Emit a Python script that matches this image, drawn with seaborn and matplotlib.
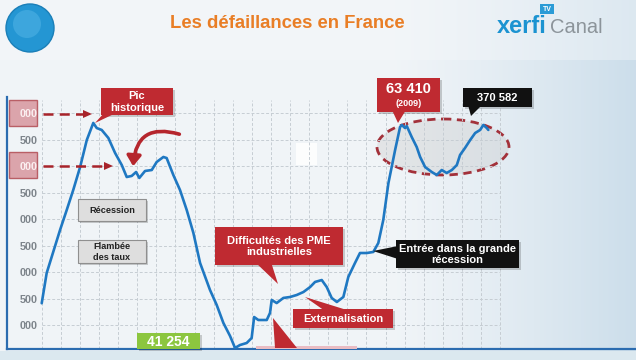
import numpy as np
import matplotlib
matplotlib.use('Agg')
import matplotlib.pyplot as plt
import seaborn as sns
from matplotlib.patches import Rectangle, Polygon, Ellipse, Circle, FancyArrowPatch
from matplotlib.ticker import FuncFormatter

# Défaillances d'entreprises en France (cumul 12 mois)
years = [1990.00, 1990.26, 1990.52, 1990.96, 1991.31, 1991.65, 1992.01, 1992.36, 1992.70, 1992.88,
         1993.14, 1993.49, 1993.84, 1994.19, 1994.45, 1994.71, 1994.94, 1995.11, 1995.41, 1995.76,
         1996.02, 1996.37, 1996.54, 1996.89, 1997.24, 1997.59, 1997.94, 1998.29, 1998.81, 1999.16,
         1999.51, 1999.86, 2000.12, 2000.38, 2000.73, 2000.99, 2001.12, 2001.34, 2001.78, 2001.95,
         2002.04, 2002.30, 2002.65, 2003.00, 2003.35, 2003.70, 2004.05, 2004.31, 2004.66, 2004.92,
         2005.18, 2005.45, 2005.79, 2006.05, 2006.40, 2006.66, 2007.02, 2007.36, 2007.62, 2007.88,
         2008.15, 2008.32, 2008.50, 2008.76, 2008.85, 2009.02, 2009.11, 2009.37, 2009.63, 2009.81,
         2010.07, 2010.42, 2010.68, 2010.94, 2011.20, 2011.47, 2011.73, 2011.90, 2012.16, 2012.43,
         2012.69, 2012.95, 2013.12, 2013.30, 2013.38]
failures = [47080, 49930, 51440, 53990, 55880, 57760, 59930, 62480, 64090, 63610,
            63430, 62670, 61260, 60120, 58990, 59090, 59460, 58900, 59560, 59650,
            60410, 60880, 60780, 59180, 57760, 55880, 53710, 50880, 48330, 46920,
            45220, 43990, 42860, 43140, 43330, 43800, 45780, 45500, 45500, 46160,
            47390, 47100, 47580, 47670, 47860, 48140, 48610, 49090, 49270, 48610,
            47580, 47200, 47670, 49560, 50880, 51820, 51820, 51920, 52760, 54930,
            58420, 59930, 61540, 63710, 63900, 63610, 63800, 62760, 61820, 60880,
            59930, 59460, 59180, 59650, 59370, 59650, 60120, 61070, 61730, 62480,
            63140, 63430, 63900, 63610, 63430]
tick_values = [45000, 47500, 50000, 52500, 55000, 57500, 60000, 62500, 65000]
highlighted_ticks = [60000, 65000]
grid_years = list(range(1990, 2015))

RED = '#bf2a31'
DARK_RED = '#a8232a'
BLUE = '#1f78c2'

sns.set_theme(style='white')
plt.rcParams['font.family'] = ['Liberation Sans', 'DejaVu Sans']

W, H = 636, 360
fig = plt.figure(figsize=(W / 100, H / 100), dpi=100)

# fond : dégradé clair vers bleu à droite
bg = fig.add_axes([0, 0, 1, 1], zorder=0)
t = np.clip((np.linspace(0, 1, W) - 0.6) / 0.4, 0, 1) ** 1.3
c_left = np.array([0.945, 0.960, 0.972])
c_right = np.array([0.80, 0.87, 0.92])
row = c_left * (1 - t[:, None]) + c_right * t[:, None]
img = np.broadcast_to(row, (H, W, 3)).copy()
img[:60] = img[:60] * 0.6 + np.array([0.96, 0.97, 0.98]) * 0.4
img[351:] = np.array([0.86, 0.91, 0.94])
bg.imshow(img, extent=(0, W, H, 0), aspect='auto')
bg.set_xlim(0, W)
bg.set_ylim(H, 0)
bg.axis('off')
# repères rouges derrière les graduations
for y0 in (100, 152):
    bg.add_patch(Rectangle((9, y0), 28, 26, fc='#d99ca3', ec='#b5535b', lw=1, alpha=0.9))
bg.add_patch(Rectangle((296, 143), 21, 22, fc='white', ec='none', alpha=0.85))
bg.add_patch(Ellipse((443, 147), 132, 56, fc='#c8c8c8', ec='none', alpha=0.35))
bg.add_patch(Ellipse((443, 147), 132, 56, fill=False, ec='#a3313a', lw=2,
                     ls=(0, (3, 2))))

# graphique principal
ax = fig.add_axes([7 / W, 11 / H, 629 / W, 252 / H], zorder=2)
ax.set_facecolor('none')
ax.set_xlim(1988.183, 2021.11)
ax.set_ylim(42764, 66538)
ax.vlines(grid_years, 42764, 66300, colors='#c6cdd3', lw=0.7, linestyles=(0, (3, 2)), zorder=0)
ax.hlines(tick_values, 1990, 2014, colors='#c6cdd3', lw=0.7, linestyles=(0, (3, 2)), zorder=0)
sns.lineplot(x=years, y=failures, ax=ax, color=BLUE, lw=1.9, estimator=None, sort=False, zorder=3)

ax.set_xticks([])
ax.set_yticks(tick_values)
ax.yaxis.set_major_formatter(FuncFormatter(lambda v, p: f"{int(v) % 1000:03d}"))
ax.tick_params(axis='y', length=0, pad=-22.3, labelsize=7.8, labelcolor='#7d848b')
for lbl, v in zip(ax.get_yticklabels(), tick_values):
    lbl.set_fontweight('bold')
    if v in highlighted_ticks:
        lbl.set_color('#fbeff0')
for side in ('top', 'right'):
    ax.spines[side].set_visible(False)
for side in ('left', 'bottom'):
    ax.spines[side].set_color('#2b6cb0')
    ax.spines[side].set_linewidth(1.6)
ax.set_xlabel('')
ax.set_ylabel('')

# calque des annotations, en pixels
ov = fig.add_axes([0, 0, 1, 1], zorder=5)
ov.set_xlim(0, W)
ov.set_ylim(H, 0)
ov.axis('off')
ov.patch.set_alpha(0)


def callout(x0, y0, x1, y1, fc, text, size, color='white', tail=None, ec='none'):
    ov.add_patch(Rectangle((x0 + 2, y0 + 2), x1 - x0, y1 - y0, fc='black', ec='none', alpha=0.18))
    if tail:
        ov.add_patch(Polygon(tail, closed=True, fc=fc, ec='none'))
    ov.add_patch(Rectangle((x0, y0), x1 - x0, y1 - y0, fc=fc, ec=ec, lw=0.8))
    if text:
        ov.text((x0 + x1) / 2, (y0 + y1) / 2 + 0.5, text, ha='center', va='center', fontsize=size,
                color=color, weight='bold', linespacing=1.15)


ov.text(287, 23, 'Les défaillances en France', ha='center', va='center', fontsize=13.3,
        weight='bold', color='#e97e26')
ov.text(497, 33, 'xerfi', ha='left', va='baseline', fontsize=17, weight='bold', color='#1b93d1')
ov.text(550, 33, 'Canal', ha='left', va='baseline', fontsize=14.5, color='#8c949a')
ov.add_patch(Rectangle((540, 4), 14, 10, fc='#2a9bd6', ec='none'))
ov.text(547, 9.5, 'TV', ha='center', va='center', fontsize=5, color='white', weight='bold')
ov.add_patch(Circle((30, 28), 24, fc='#2496d3', ec='#1b7fb8', lw=1))
ov.add_patch(Circle((27, 24), 14, fc='#5cbbea', ec='none', alpha=0.45))

# flèches en pointillés vers les graduations
for y, x_end in ((114, 92), (166, 113)):
    ov.plot([43, x_end - 8], [y, y], color=DARK_RED, lw=1.8, ls=(0, (4, 2.5)), solid_capstyle='butt')
    ov.add_patch(Polygon([(x_end - 9, y - 4), (x_end, y), (x_end - 9, y + 4)], fc=DARK_RED, ec='none'))

ov.add_patch(FancyArrowPatch((182, 135), (133, 169), connectionstyle='arc3,rad=0.65',
                             arrowstyle='-|>,head_length=0.5,head_width=0.35', mutation_scale=12,
                             lw=2.6, color='#b5262d'))

callout(101, 88, 173, 115, RED, 'Pic\nhistorique', 8, tail=[(104, 113), (116, 113), (95, 123)])
callout(78, 199, 146, 221, '#dedede', 'Récession', 6.6, color='#222222', ec='#8f8f8f')
callout(78, 240, 146, 263, '#dedede', 'Flambée\ndes taux', 6.6, color='#222222', ec='#8f8f8f')
callout(215, 227, 343, 265, RED, 'Difficultés des PME\nindustrielles', 8,
        tail=[(255, 262), (271, 262), (278, 284)])
callout(293, 309, 393, 328, RED, 'Externalisation', 8, tail=[(325, 311), (350, 311), (305, 297)])
callout(137, 333, 200, 349, '#8cc63f', '41 254', 10)
callout(396, 240, 519, 268, '#111111', 'Entrée dans la grande\nrécession', 8,
        tail=[(398, 246), (398, 259), (373, 251)])
callout(377, 78, 440, 112, RED, '', 8, tail=[(392, 110), (406, 110), (398, 123)])
ov.text(408.5, 89, '63 410', ha='center', va='center', fontsize=10.5, weight='bold', color='white')
ov.text(408.5, 104, '(2009)', ha='center', va='center', fontsize=6.5, weight='bold', color='white')
callout(463, 88, 532, 107, '#111111', '370 582', 8, tail=[(468, 105), (482, 105), (471, 116)])

ov.add_patch(Rectangle((256, 346), 101, 3, fc='#e9bcc3', ec='none'))
ov.add_patch(Polygon([(273, 318), (275, 348), (297, 348)], fc=RED, ec='none'))

fig.savefig('out.png', dpi=100)
plt.close(fig)
